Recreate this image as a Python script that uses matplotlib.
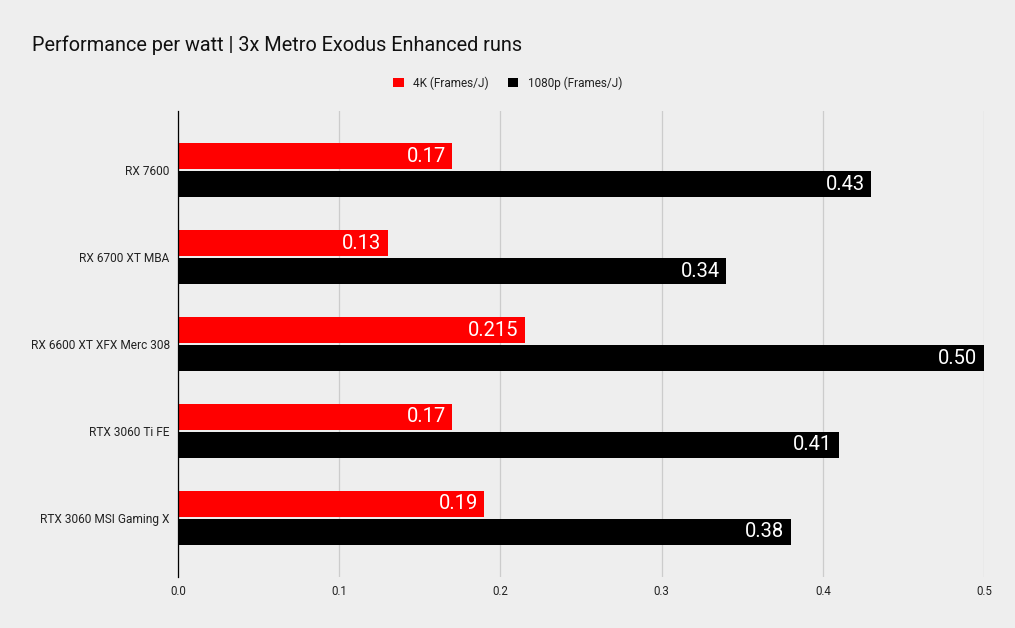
import matplotlib.pyplot as plt
import numpy as np

plt.rcParams['font.family'] = ['Roboto', 'DejaVu Sans']

gpus = ["RX 7600", "RX 6700 XT MBA", "RX 6600 XT XFX Merc 308", "RTX 3060 Ti FE", "RTX 3060 MSI Gaming X"]
fps_4k = [0.17, 0.13, 0.215, 0.17, 0.19]
fps_1080 = [0.43, 0.34, 0.50, 0.41, 0.38]
labels_4k = ["0.17", "0.13", "0.215", "0.17", "0.19"]
labels_1080 = ["0.43", "0.34", "0.50", "0.41", "0.38"]

bg = "#eeeeee"
fig = plt.figure(figsize=(10.15, 6.28), dpi=100, facecolor=bg)
ax = fig.add_axes([0.1754, 0.0812, 0.7941, 0.742])
ax.set_facecolor(bg)

y = np.arange(len(gpus))
h = 0.30
off = 0.161
bars1 = ax.barh(y - off, fps_4k, height=h, color="#ff0000", label="4K (Frames/J)", zorder=3)
bars2 = ax.barh(y + off, fps_1080, height=h, color="#000000", label="1080p (Frames/J)", zorder=3)

for bars, labs in [(bars1, labels_4k), (bars2, labels_1080)]:
    for b, t in zip(bars, labs):
        ax.text(b.get_width() - 0.004, b.get_y() + b.get_height() / 2, t,
                ha="right", va="center", color="white", fontsize=14.5, zorder=4)

ax.set_xlim(0, 0.5)
ax.set_ylim(4.68, -0.68)
ax.set_yticks(y)
ax.set_yticklabels(gpus, fontsize=8.6, color="#222222")
ax.set_xticks([0, 0.1, 0.2, 0.3, 0.4, 0.5])
ax.set_xticklabels(["0.0", "0.1", "0.2", "0.3", "0.4", "0.5"], fontsize=8.3, color="#222222")
ax.tick_params(length=0, pad=6)
ax.xaxis.grid(True, color="#cccccc", linewidth=0.9, zorder=0)
for s in ["top", "right", "bottom"]:
    ax.spines[s].set_visible(False)
ax.spines["left"].set_color("#000000")
ax.spines["left"].set_linewidth(0.9)
ax.spines["left"].set_zorder(5)

fig.text(0.0315, 0.928, "Performance per watt | 3x Metro Exodus Enhanced runs",
         fontsize=14.3, color="#111111", va="center", ha="left")
fig.legend(loc="center", bbox_to_anchor=(0.5, 0.868), ncol=2, frameon=False,
           fontsize=8.5, handlelength=0.9, handleheight=0.9, columnspacing=1.6,
           handletextpad=0.8, labelcolor="#222222")

fig.savefig("out.png", dpi=100, facecolor=bg)
